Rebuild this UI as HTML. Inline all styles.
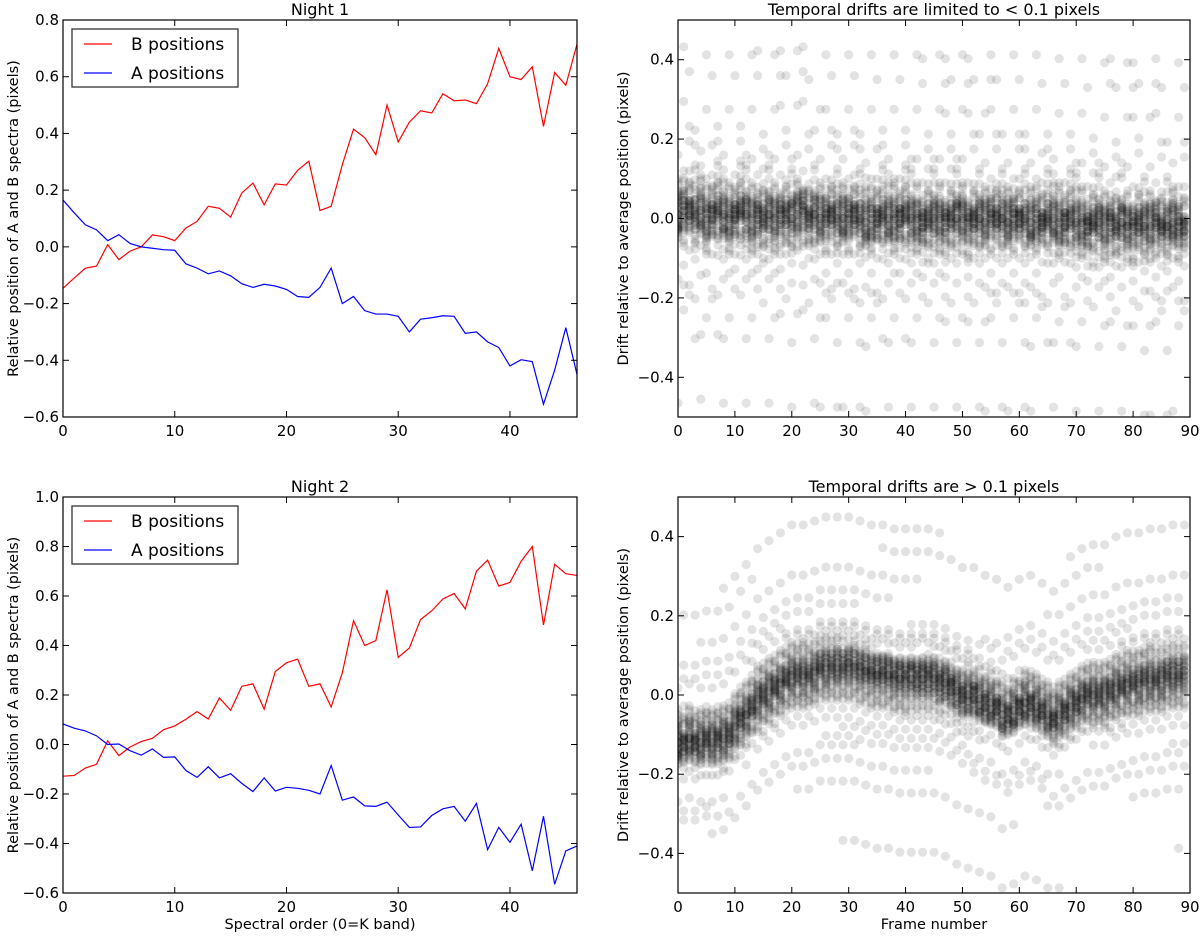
<!DOCTYPE html>
<html><head><meta charset="utf-8"><style>
body{margin:0;background:#fff;}
svg text{font-family:"DejaVu Sans","Liberation Sans",sans-serif;fill:#000;}
</style></head><body>
<svg id="fig" width="1200" height="935" xmlns="http://www.w3.org/2000/svg"></svg>
<script>
const orders = Array.from({length:47},(_,i)=>i);
const n1B = [-0.146,-0.11,-0.075,-0.068,0.008,-0.045,-0.015,0.0,0.042,0.036,0.022,0.066,0.09,0.143,0.136,0.105,0.19,0.225,0.148,0.222,0.218,0.27,0.302,0.128,0.143,0.29,0.415,0.385,0.325,0.5,0.37,0.44,0.48,0.472,0.54,0.515,0.518,0.505,0.575,0.70,0.60,0.59,0.635,0.425,0.615,0.57,0.715];
const n1A = [0.165,0.12,0.078,0.06,0.022,0.043,0.012,0.0,-0.005,-0.01,-0.012,-0.06,-0.075,-0.095,-0.085,-0.102,-0.13,-0.143,-0.132,-0.138,-0.15,-0.175,-0.178,-0.143,-0.075,-0.2,-0.175,-0.225,-0.237,-0.237,-0.245,-0.3,-0.255,-0.25,-0.243,-0.245,-0.305,-0.3,-0.335,-0.355,-0.42,-0.398,-0.405,-0.555,-0.435,-0.285,-0.45];
const n2B = [-0.128,-0.125,-0.095,-0.08,0.015,-0.045,-0.01,0.012,0.025,0.06,0.075,0.102,0.133,0.103,0.188,0.138,0.235,0.245,0.143,0.295,0.33,0.345,0.235,0.245,0.152,0.29,0.5,0.4,0.42,0.625,0.352,0.39,0.505,0.54,0.588,0.61,0.548,0.7,0.745,0.64,0.655,0.74,0.8,0.483,0.728,0.69,0.683];
const n2A = [0.083,0.066,0.055,0.035,0.0,0.002,-0.025,-0.043,-0.018,-0.052,-0.05,-0.105,-0.133,-0.09,-0.135,-0.118,-0.157,-0.19,-0.135,-0.188,-0.173,-0.177,-0.185,-0.2,-0.085,-0.225,-0.212,-0.248,-0.25,-0.233,-0.285,-0.335,-0.333,-0.287,-0.26,-0.25,-0.31,-0.238,-0.425,-0.335,-0.395,-0.322,-0.51,-0.29,-0.565,-0.43,-0.41];
// per-frame drift centres
const drift1 = [0.01,0.02,0.02,0.01,0.02,0.0,0.01,0.02,0.01,0.0,0.01,0.02,0.01,0.0,0.01,0.0,0.01,0.0,0.01,0.01,0.0,0.01,0.02,0.0,0.01,0.0,0.0,0.01,0.0,0.0,0.0,0.01,0.0,-0.01,0.0,0.0,0.01,0.0,0.0,0.0,0.01,0.0,0.0,-0.01,0.0,0.0,0.0,-0.01,0.0,0.0,0.0,-0.01,0.0,0.0,-0.01,0.0,0.0,0.0,-0.01,0.0,0.0,0.0,-0.01,0.0,-0.01,0.0,0.0,-0.01,-0.01,0.0,-0.01,-0.01,-0.02,-0.01,-0.01,-0.02,-0.01,-0.02,-0.01,-0.02,-0.02,-0.01,-0.02,-0.02,-0.01,-0.02,-0.02,-0.01,-0.02,-0.02];
const drift2 = [-0.12,-0.12,-0.11,-0.12,-0.12,-0.11,-0.12,-0.11,-0.11,-0.1,-0.08,-0.06,-0.05,-0.03,-0.01,0.0,0.01,0.02,0.03,0.04,0.05,0.05,0.05,0.05,0.06,0.07,0.07,0.07,0.07,0.07,0.07,0.07,0.06,0.06,0.05,0.05,0.05,0.05,0.04,0.04,0.04,0.04,0.04,0.04,0.04,0.04,0.03,0.03,0.02,0.01,0.0,0.0,0.0,-0.01,-0.02,-0.02,-0.03,-0.05,-0.05,-0.04,-0.03,-0.02,-0.02,-0.03,-0.04,-0.05,-0.06,-0.05,-0.04,-0.03,-0.02,-0.01,0.0,0.0,0.0,0.0,0.01,0.02,0.02,0.03,0.03,0.03,0.04,0.04,0.04,0.04,0.05,0.05,0.05,0.05];
const residuals = [0,0.01,-0.01,0.02,-0.02,0.03,-0.03,0.04,-0.04,0.005,-0.005,0.015,-0.015,0.025,-0.025,0.035,-0.035,0.05,-0.05,0.0,
0.12,-0.01,0.02,-0.02,0.01,0.0,-0.03,0.03,0.06,-0.06,0.012,-0.012,0.022,-0.022,0.045,-0.045,-0.11,0.008,-0.008,0.03,
-0.25,0.02,-0.02,0.0,0.04,-0.04,0.07,-0.07,0.015,-0.015,0.01,-0.01,0.055,-0.055,0.09,0.0,-0.028,0.028,-0.15,0.018,
0.005,-0.005,0.035,-0.035,0.33,0.02,-0.02,0.042,-0.042,0.0,0.065,-0.065,0.01,-0.01,0.17,-0.09,0.025,-0.025,0.032,-0.032,
0.0,0.014,-0.014,0.048,-0.048,-0.2,0.08,-0.08,0.006,-0.006,0.038,-0.038,0.22,0.02,-0.02,0.0,0.1,-0.13,0.016,-0.016,
0.026,-0.026,0.058,-0.058,-0.38,0.004,-0.004,0.044,-0.044,0.14,0.012,-0.012,0.072,-0.072,0.0,0.28,-0.17,0.03,-0.03,0.009];
const leftYTicks1 = [-0.6,-0.4,-0.2,0.0,0.2,0.4,0.6,0.8];
const leftYTicks2 = [-0.6,-0.4,-0.2,0.0,0.2,0.4,0.6,0.8,1.0];
const rightYTicks = [-0.4,-0.2,0.0,0.2,0.4];
const leftXTicks = [0,10,20,30,40];
const rightXTicks = [0,10,20,30,40,50,60,70,80,90];

const NS="http://www.w3.org/2000/svg";
const svg=document.getElementById('fig');
function mk(tag,attrs,parent){const e=document.createElementNS(NS,tag);for(const k in attrs)e.setAttribute(k,attrs[k]);(parent||svg).appendChild(e);return e;}
function fmt(v){const s=Math.abs(v).toFixed(1);return (v<0?'\u2212':'')+s;}

function panel(o){
  const g=mk('g',{});
  
  
  const X=v=>o.x0+(v-o.xmin)/(o.xmax-o.xmin)*(o.x1-o.x0);
  const Y=v=>o.y1-(v-o.ymin)/(o.ymax-o.ymin)*(o.y1-o.y0);
  const clipId='c'+o.name;
  const cp=mk('clipPath',{id:clipId},g);mk('rect',{x:o.x0,y:o.y0,width:o.x1-o.x0,height:o.y1-o.y0},cp);
  const marks=mk('g',{'clip-path':'url(#'+clipId+')'},g);
  
  
  o.draw(marks,X,Y);
  const fr=mk('rect',{x:o.x0,y:o.y0,width:o.x1-o.x0,height:o.y1-o.y0,fill:'none',stroke:'#000','stroke-width':1.2},g);
  
  
  o.xt.forEach(v=>{const x=X(v);
    mk('line',{x1:x,x2:x,y1:o.y1,y2:o.y1-6,stroke:'#000'},g);
    mk('line',{x1:x,x2:x,y1:o.y0,y2:o.y0+6,stroke:'#000'},g);
    const t=mk('text',{x:x,y:o.y1+19,'text-anchor':'middle','font-size':15},g);t.textContent=v;
    
    
  });
  o.yt.forEach(v=>{const y=Y(v);
    mk('line',{x1:o.x0,x2:o.x0+6,y1:y,y2:y,stroke:'#000'},g);
    mk('line',{x1:o.x1,x2:o.x1-6,y1:y,y2:y,stroke:'#000'},g);
    const t=mk('text',{x:o.x0-4,y:y+5,'text-anchor':'end','font-size':15},g);t.textContent=fmt(v);
    
    
  });
  const tt=mk('text',{x:(o.x0+o.x1)/2,y:o.y0-5,'text-anchor':'middle','font-size':16},g);tt.textContent=o.title;
  
  
  const yl=mk('text',{x:0,y:0,'text-anchor':'middle','font-size':14.5,transform:`translate(${o.ylx},${(o.y0+o.y1)/2}) rotate(-90)`},g);yl.textContent=o.ylabel;
  
  
  if(o.xlabel){const xl=mk('text',{x:(o.x0+o.x1)/2,y:o.y1+36,'text-anchor':'middle','font-size':14.5},g);xl.textContent=o.xlabel;
    
    }
  if(o.legend){const lg=mk('g',{},g);
    
    
    const lx=o.x0+9,ly=o.y0+9;
    mk('rect',{x:lx,y:ly,width:166,height:58,fill:'#fff',stroke:'#333','stroke-width':1.3},lg);
    [['B positions','#f00'],['A positions','#00f']].forEach((e,i)=>{
      const yy=ly+15+i*29;
      const l=mk('line',{x1:lx+12,x2:lx+40,y1:yy,y2:yy,stroke:e[1],'stroke-width':1.2},lg);
      
      
      const t=mk('text',{x:lx+59,y:yy+6,'font-size':17},lg);t.textContent=e[0];
      
      
    });}
}
function lines(B,A){return (g,X,Y)=>{
  [[B,'#f00','b-positions-line'],[A,'#00f','a-positions-line']].forEach(s=>{
    const p=mk('polyline',{points:orders.map((o,i)=>X(o)+','+Y(s[0][i])).join(' '),fill:'none',stroke:s[1],'stroke-width':1.2},g);
    
    
  });};}
function scatter(D,step,spread){return (g,X,Y)=>{
  D.forEach((c,f)=>{
    for(let k=0;k<40;k++){
      const r=residuals[(f*step+k*7)%residuals.length]*spread;
      const d=mk('circle',{cx:X(f),cy:Y(c+r),r:4.6,fill:'rgba(0,0,0,0.11)'},g);
      
      
    }
  });};}
const ylabL='Relative position of A and B spectra (pixels)';
const ylabR='Drift relative to average position (pixels)';
panel({name:'night1-panel',x0:63,x1:577,y0:20,y1:417,xmin:0,xmax:46,ymin:-0.6,ymax:0.8,xt:leftXTicks,yt:leftYTicks1,title:'Night 1',ylabel:ylabL,ylx:18,legend:true,draw:lines(n1B,n1A)});
panel({name:'night2-panel',x0:63,x1:577,y0:497,y1:893,xmin:0,xmax:46,ymin:-0.6,ymax:1.0,xt:leftXTicks,yt:leftYTicks2,title:'Night 2',ylabel:ylabL,ylx:18,xlabel:'Spectral order (0=K band)',legend:true,draw:lines(n2B,n2A)});
panel({name:'drift1-panel',x0:678,x1:1190,y0:20,y1:417,xmin:0,xmax:90,ymin:-0.5,ymax:0.5,xt:rightXTicks,yt:rightYTicks,title:'Temporal drifts are limited to < 0.1 pixels',ylabel:ylabR,ylx:628,draw:scatter(drift1,37,1.25)});
panel({name:'drift2-panel',x0:678,x1:1190,y0:497,y1:893,xmin:0,xmax:90,ymin:-0.5,ymax:0.5,xt:rightXTicks,yt:rightYTicks,title:'Temporal drifts are > 0.1 pixels',ylabel:ylabR,ylx:628,xlabel:'Frame number',draw:scatter(drift2,53,1.15)});
</script>
</body></html>
